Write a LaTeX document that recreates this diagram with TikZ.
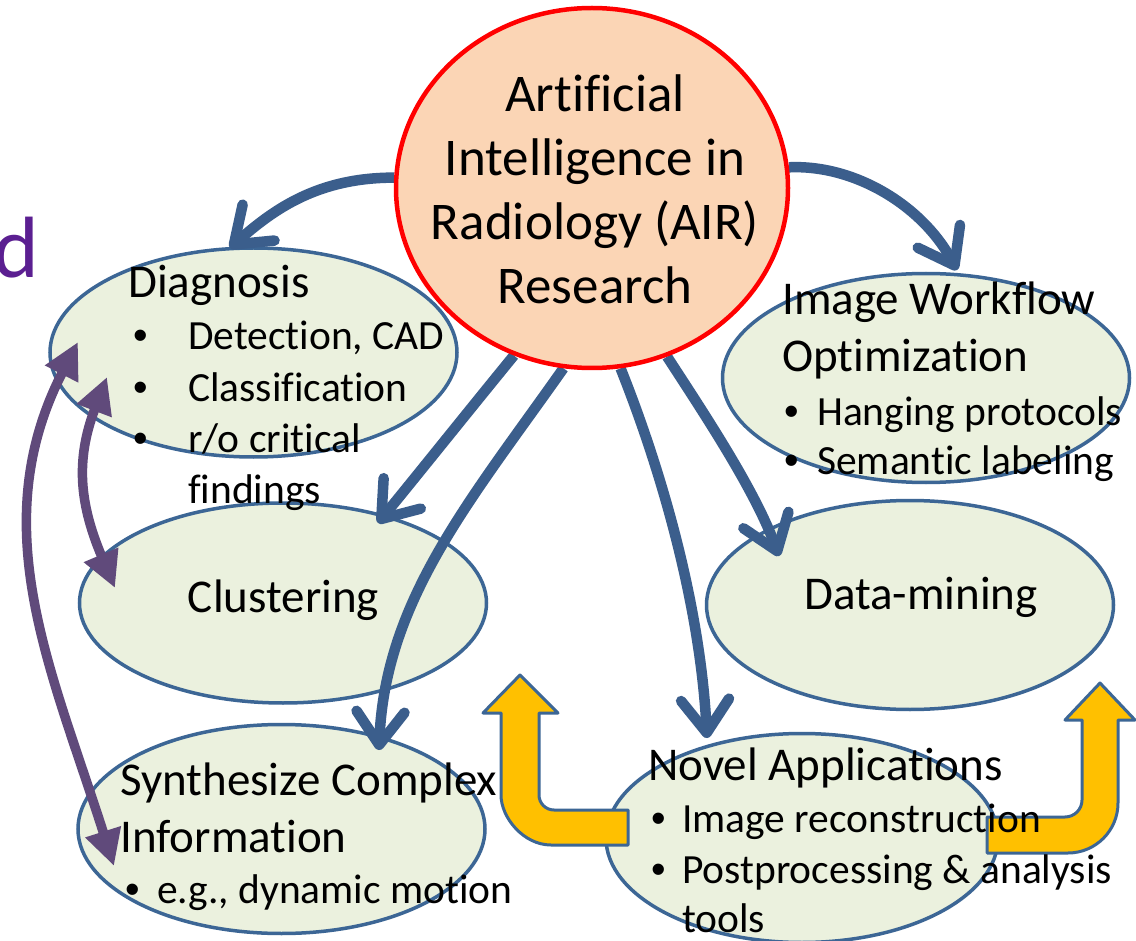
\documentclass[tikz,border=0pt]{standalone}
\usepackage{fontspec}
\setmainfont{Carlito}[Ligatures={NoCommon}]
\newfontfamily\dotfont{Liberation Sans}
\usetikzlibrary{shapes.geometric,arrows.meta,calc}
\pgfdeclarelayer{ovals}
\pgfdeclarelayer{links}
\pgfsetlayers{ovals,links,main}

\definecolor{ovalfill}{HTML}{EBF1DE}
\definecolor{ovaledge}{HTML}{3C6695}
\definecolor{flowblue}{HTML}{3B5E8C}
\definecolor{linkpurple}{HTML}{604A7B}
\definecolor{hubfill}{HTML}{FBD5B5}
\definecolor{hubedge}{HTML}{FF0000}
\definecolor{turnfill}{HTML}{FFC000}
\definecolor{letterpurple}{HTML}{5B1F91}

\newcommand{\dotmark}[1]{\makebox[#1][l]{\dotfont •}}

\begin{document}
\begin{tikzpicture}[x=1pt,y=-1pt,
  oval/.style={ellipse, draw=ovaledge, fill=ovalfill, line width=3.5pt,
    inner sep=0pt, minimum width=407pt, minimum height=209pt},
  hub/.style={ellipse, draw=hubedge, fill=hubfill, line width=4.5pt,
    inner sep=0pt, minimum width=392pt, minimum height=360pt},
  head/.style={inner sep=0pt, anchor=base west, font=\fontsize{47}{56}\selectfont},
  item/.style={inner sep=0pt, anchor=base west, font=\fontsize{41.5}{50}\selectfont},
  hubtext/.style={inner sep=0pt, anchor=base, font=\fontsize{53}{64}\selectfont},
  flow/.style={draw=flowblue, line width=10.5pt,
    -{Straight Barb[length=33pt,width=48pt,round]}},
  link/.style={draw=linkpurple, line width=9.5pt,
    {Triangle[length=36pt,width=35pt]}-{Triangle[length=36pt,width=35pt]}},
  turn/.style={draw=ovaledge, fill=turnfill, line width=3pt, line join=round},
]
\useasboundingbox (0,0) rectangle (1136,941);

% topic ovals
\begin{pgfonlayer}{ovals}
  \fill[white] (0,0) rectangle (1136,941);
  \node[oval] (diag) at (253.5,352.5) {};
  \node[oval] (wf) at (926,378) {};
  \node[oval, minimum height=200pt] (clus) at (283,603) {};
  \node[oval] (dm) at (910,605) {};
  \node[oval] (syn) at (281.5,829) {};
  \node[oval, minimum width=392pt] (nov) at (802,838) {};
\end{pgfonlayer}

% central topic
\node[hub] (hub) at (592,188) {};

\begin{pgfonlayer}{links}
  % flows out of the central topic
  \draw[flow] (hub.177) .. controls +(-75,0) and +(45,-40) .. ($(diag.center)+(-23.5,-104.5)$);
  \draw[flow] (hub.6) .. controls +(65,-3) and +(-35,-65) .. ($(wf.center)+(31,-108)$);
  \draw[flow] (hub.245) .. controls +(-45,55) and +(45,-55) .. ($(clus.center)+(95,-80)$);
  \draw[flow] (hub.261) .. controls +(-93,132) and +(6,-150) .. ($(syn.center)+(97.5,-79)$);
  \draw[flow] (hub.279) .. controls +(38,95) and +(-7,-138) .. ($(nov.center)+(-95,-100)$);
  \draw[flow] (hub.294) .. controls +(37,57) and +(-24,-66) .. ($(dm.center)+(-131,-49)$);

  % two-way links on the left
  \draw[link] ($(diag.center)+(-175.5,-10.5)$) .. controls +(-95,185) and +(-62,-195) .. ($(syn.center)+(-167.5,37)$);
  \draw[link] ($(diag.center)+(-146.5,24.5)$) .. controls +(-32,84) and +(-35,-83) .. ($(clus.center)+(-168,-15)$);

  % bent-up arrows beside Novel Applications
  \draw[turn] (520,675) -- (558,713) -- (539,713) -- (539,795)
    .. controls (539,803.3) and (545.7,810) .. (554,810)
    -- (628,810) -- (628,845) -- (551,845)
    .. controls (523.4,845) and (501,817.4) .. (501,795)
    -- (501,713) -- (483,713) -- cycle;
  \draw[turn] (1100,683) -- (1135,720) -- (1118,720) -- (1118,803)
    .. controls (1118,830.6) and (1095.6,853) .. (1068,853)
    -- (987,853) -- (987,817) -- (1065,817)
    .. controls (1074.4,817) and (1082,809.4) .. (1082,800)
    -- (1082,720) -- (1065,720) -- cycle;
\end{pgfonlayer}

% partly hidden title letter
\node[inner sep=0pt, anchor=base east, text=letterpurple,
  font=\fontsize{87}{100}\selectfont] (cut) at (39,278) {d};

% central topic text
\node[hubtext] (h1) at (595,112) {Artificial};
\node[hubtext] (h2) at (595,176) {Intelligence in};
\node[hubtext] (h3) at (595,240) {Radiology (AIR)};
\node[hubtext] (h4) at (595,304) {Research};

% Diagnosis
\node[head] (d0) at (128,298) {Diagnosis};
\node[item] (d1) at (133,350) {\dotmark{55pt}Detection, CAD};
\node[item] (d2) at (133,402) {\dotmark{55pt}Classification};
\node[item] (d3) at (133,453) {\dotmark{55pt}r/o critical};
\node[item] (d4) at (188,503) {findings};

% Image Workflow Optimization
\node[head] (w0) at (782,315) {Image Workflow};
\node[head] (w1) at (782,372) {Optimization};
\node[item] (w2) at (784,425) {\dotmark{33pt}Hanging protocols};
\node[item] (w3) at (784,475) {\dotmark{33pt}Semantic labeling};

% Clustering and Data-mining
\node[head, anchor=base] (c0) at (283.5,612) {Clustering};
\node[head, anchor=base] (m0) at (921,609) {Data-mining};

% Synthesize Complex Information
\node[head] (s0) at (120,795) {Synthesize Complex};
\node[head] (s1) at (120,852) {Information};
\node[item] (s2) at (125,903) {\dotmark{32pt}e.g., dynamic motion};

% Novel Applications
\node[head] (n0) at (648,780) {Novel Applications};
\node[item] (n1) at (651,832) {\dotmark{31pt}Image reconstruction};
\node[item] (n2) at (651,883) {\dotmark{31pt}Postprocessing \& analysis};
\node[item] (n3) at (682,932) {tools};
\end{tikzpicture}
\end{document}
